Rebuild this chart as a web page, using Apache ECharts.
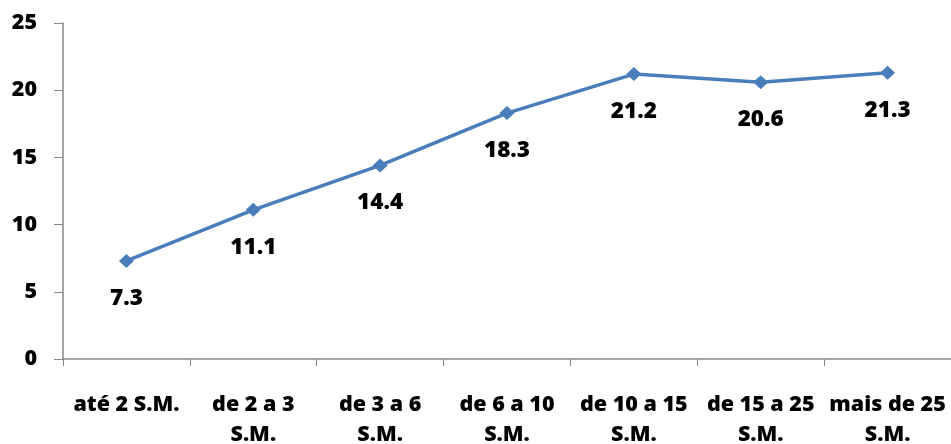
<!DOCTYPE html>
<html>
<head>
<meta charset="utf-8">
<script src="https://cdn.jsdelivr.net/npm/echarts@6/dist/echarts.min.js"></script>
<style>
  html, body { margin: 0; padding: 0; background: #fff; }
  #chart { width: 951px; height: 444px; }
</style>
</head>
<body>
<div id="chart"></div>
<script>
// Income brackets (multiples of the minimum wage) and their values
const categories = ['até 2 S.M.', 'de 2 a 3\nS.M.', 'de 3 a 6\nS.M.', 'de 6 a 10\nS.M.', 'de 10 a 15\nS.M.', 'de 15 a 25\nS.M.', 'mais de 25\nS.M.'];
const values = [7.3, 11.1, 14.4, 18.3, 21.2, 20.6, 21.3];
const yTicks = [0, 5, 10, 15, 20, 25];

const font = '"Open Sans", Lato, sans-serif';
const chart = echarts.init(document.getElementById('chart'));
chart.setOption({
  animation: false,
  grid: { left: 63, right: 0, top: 23, bottom: 85, containLabel: false, outerBoundsMode: 'none' },
  xAxis: {
    type: 'category',
    data: categories,
    boundaryGap: true,
    axisLine: { lineStyle: { color: '#898989', width: 1.5 } },
    axisTick: { show: true, length: 7, lineStyle: { color: '#898989' } },
    axisLabel: {
      color: '#000', fontWeight: 800, fontSize: 21.5, fontFamily: font,
      margin: 31, lineHeight: 30, interval: 0
    },
    splitLine: { show: false }
  },
  yAxis: {
    type: 'value',
    min: yTicks[0], max: yTicks[yTicks.length - 1], interval: 5,
    axisLine: { show: true, lineStyle: { color: '#898989', width: 1.5 } },
    axisTick: { show: true, length: 9, lineStyle: { color: '#898989' } },
    axisLabel: { color: '#000', fontWeight: 800, fontSize: 21.5, fontFamily: font, margin: 26 },
    splitLine: { show: false }
  },
  series: [{
    type: 'line',
    data: values,
    symbol: 'diamond',
    symbolSize: [15, 14],
    lineStyle: { color: '#4a7ebb', width: 3.5 },
    itemStyle: { color: '#4a7ebb' },
    label: {
      show: true, position: 'bottom', distance: 19,
      color: '#000', fontWeight: 800, fontSize: 22.5, fontFamily: font,
      formatter: p => p.value.toFixed(1)
    }
  }]
});
</script>
</body>
</html>
